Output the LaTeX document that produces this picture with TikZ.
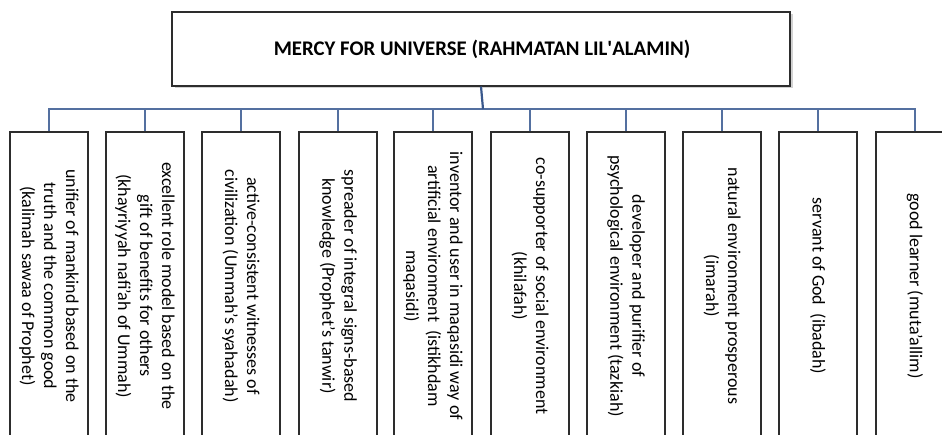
\documentclass[tikz,border=0pt]{standalone}
\usepackage{fontspec}
\setmainfont{Carlito}
\definecolor{conn}{RGB}{84,112,160}
\definecolor{trunkc}{RGB}{58,88,140}
\definecolor{edge}{RGB}{45,45,45}
\begin{document}
\begin{tikzpicture}[x=1pt,y=-1pt,
  topbox/.style={draw=edge,line width=1.1pt,fill=white,minimum width=618pt,minimum height=74pt,inner sep=0pt},
  colbox/.style={draw=edge,line width=1.2pt,fill=white,minimum width=78pt,minimum height=308pt,inner sep=0pt},
  coltext/.style={rotate=-90,align=center,font=\fontsize{18}{22}\selectfont,inner sep=0pt},
  connector/.style={draw=conn,line width=1.2pt},
  trunk/.style={draw=trunkc,line width=2.2pt}]
\useasboundingbox (0,0) rectangle (942,435);
\clip (0,0) rectangle (942,435);
\fill[white] (0,0) rectangle (942,435);
% top
\fill[gray!35] (174.5,14.5) rectangle (792.5,88.5);
\node[topbox] (top) at (481,49) {};
\node[font=\fontsize{20.8}{24}\bfseries\selectfont] (toptext) at (482,49) {MERCY FOR UNIVERSE (RAHMATAN LIL\textquotesingle ALAMIN)};
% bus
\coordinate (bus) at (483,109);
% columns
\foreach \i/\cx in {1/49,2/145,3/241,4/338,5/433,6/530,7/626,8/722,9/818,10/915}{
  \node[colbox] (b\i) at (\cx,286) {};
}
\node[coltext] (t1) at (b1.center) {unifier of mankind based on the\\truth and the common good\\(kalimah sawaa of Prophet)};
\node[coltext] (t2) at (b2.center) {excellent role model based on the\\gift of benefits for others\\(khayriyyah nafi’ah of Ummah)};
\node[coltext] (t3) at (b3.center) {active-consistent witnesses of\\civilization (Ummah’s syahadah)};
\node[coltext] (t4) at (b4.center) {spreader of integral signs-based\\knowledge (Prophet’s tanwir)};
\node[coltext] (t5) at (b5.center) {inventor and user in maqasidi way of\\artificial environment\ \ (istikhdam\\maqasidi)};
\node[coltext] (t6) at (b6.center) {co-supporter of social environment\\(khilafah)};
\node[coltext] (t7) at (b7.center) {developer and purifier of\\psychological environment (tazkiah)};
\node[coltext] (t8) at (b8.center) {natural environment prosperous\\(imarah)};
\node[coltext] (t9) at (b9.center) {servant of God\ \ (ibadah)};
\node[coltext] (t10) at (b10.center) {good learner (muta’allim)};
% connectors
\foreach \i in {1,...,10}{
  \draw[connector] (b\i.north) -- (b\i.north |- bus) -- (bus);
}
\draw[trunk] (top.south) -- (bus);
\end{tikzpicture}
\end{document}
